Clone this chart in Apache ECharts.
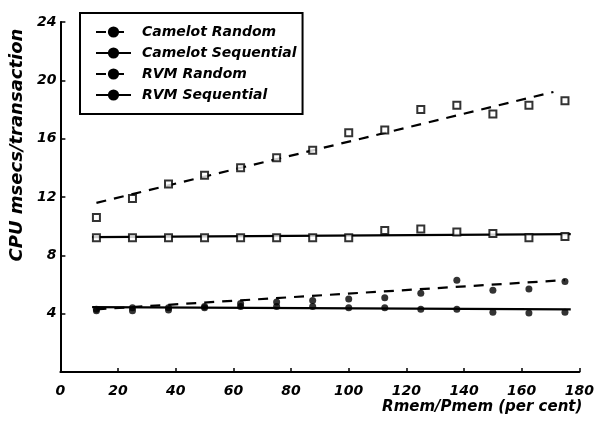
<!DOCTYPE html>
<html>
<head>
<meta charset="utf-8">
<script src="https://cdn.jsdelivr.net/npm/echarts@6/dist/echarts.min.js"></script>
<style>
  html, body { margin: 0; padding: 0; background: #fff; }
  #chart { width: 597px; height: 423px; }
</style>
</head>
<body>
<div id="chart"></div>
<script>
// Rmem/Pmem (per cent)
const xValues = [12.5, 25, 37.5, 50, 62.5, 75, 87.5, 100, 112.5, 125, 137.5, 150, 162.5, 175]

// measured points, CPU msecs/transaction
const camelotRandom = [10.6, 11.9, 12.9, 13.5, 14.0, 14.7, 15.2, 16.4, 16.6, 18.0, 18.3, 17.7, 18.3, 18.6]
const camelotSequential = [9.2, 9.2, 9.2, 9.2, 9.2, 9.2, 9.2, 9.2, 9.7, 9.8, 9.6, 9.5, 9.2, 9.3]
const rvmRandom = [4.3, 4.4, 4.4, 4.5, 4.7, 4.8, 4.9, 5.0, 5.1, 5.4, 6.3, 5.6, 5.7, 6.2]
const rvmSequential = [4.2, 4.2, 4.25, 4.4, 4.5, 4.5, 4.5, 4.4, 4.4, 4.3, 4.3, 4.1, 4.05, 4.1]

// fitted lines: [x, y] at both ends
const camelotRandomFit = [[12.5, 11.6], [171, 19.2]]
const camelotSequentialFit = [[11, 9.25], [177, 9.45]]
const rvmRandomFit = [[12.5, 4.3], [175, 6.3]]
const rvmSequentialFit = [[11, 4.45], [177, 4.3]]

const names = ['Camelot Random', 'Camelot Sequential', 'RVM Random', 'RVM Sequential']

const font = 'DejaVu Sans'
const pairs = (ys) => xValues.map((x, i) => [x, ys[i]])

const fitLine = (name, data, dashed) => ({
  name: name,
  type: 'line',
  data: data,
  symbol: 'circle',
  symbolSize: 6,
  showSymbol: false,
  silent: true,
  itemStyle: { color: '#000' },
  lineStyle: { color: '#000', width: 2.2, type: dashed ? [10, 8] : 'solid' },
  z: 2,
})

const points = (name, ys, open) => ({
  name: name,
  type: 'scatter',
  data: pairs(ys),
  symbol: open ? 'emptyRect' : 'circle',
  symbolSize: 7,
  itemStyle: open
    ? { color: '#000', borderColor: '#000', borderWidth: 2.5 }
    : { color: '#000' },
  z: 3,
})

const chart = echarts.init(document.getElementById('chart'))

const option = {
  backgroundColor: '#fff',
  animation: false,
  grid: { left: 59, right: 17, top: 22, bottom: 51, containLabel: false },
  legend: {
    data: names,
    orient: 'vertical',
    left: 80,
    top: 13,
    itemWidth: 35,
    itemHeight: 14,
    itemGap: 7,
    padding: [12, 6, 12, 15],
    borderColor: '#000',
    borderWidth: 2,
    borderRadius: 0,
    selectedMode: false,
    textStyle: {
      fontFamily: font,
      fontSize: 14,
      fontWeight: 'bold',
      fontStyle: 'italic',
      color: '#000',
      padding: [0, 0, 0, 6],
    },
  },
  xAxis: {
    type: 'value',
    min: 0,
    max: 180,
    interval: 20,
    name: 'Rmem/Pmem (per cent)',
    nameLocation: 'end',
    nameGap: 3,
    nameTextStyle: {
      fontFamily: font,
      fontSize: 15,
      fontWeight: 'bold',
      fontStyle: 'italic',
      color: '#000',
      align: 'right',
      verticalAlign: 'top',
      padding: [28, 0, 0, 0],
    },
    axisLine: { lineStyle: { color: '#000', width: 2 } },
    axisTick: { inside: true, length: 4, lineStyle: { color: '#000', width: 1.5 } },
    axisLabel: {
      margin: 12,
      fontFamily: font,
      fontSize: 14,
      fontWeight: 'bold',
      fontStyle: 'italic',
      color: '#000',
    },
    splitLine: { show: false },
  },
  yAxis: {
    type: 'value',
    min: 0,
    max: 24,
    interval: 4,
    name: 'CPU msecs/transaction',
    nameLocation: 'middle',
    nameRotate: 90,
    nameGap: 27,
    nameTextStyle: {
      fontFamily: font,
      fontSize: 18,
      fontWeight: 'bold',
      fontStyle: 'italic',
      color: '#000',
      padding: [0, 0, 0, 104],
    },
    axisLine: { show: true, lineStyle: { color: '#000', width: 2 } },
    axisTick: { show: true, inside: true, length: 5, lineStyle: { color: '#000', width: 1.5 } },
    axisLabel: {
      showMinLabel: false,
      margin: 4,
      fontFamily: font,
      fontSize: 14,
      fontWeight: 'bold',
      fontStyle: 'italic',
      color: '#000',
    },
    splitLine: { show: false },
  },
  series: [
    fitLine(names[0], camelotRandomFit, true),
    fitLine(names[1], camelotSequentialFit, false),
    fitLine(names[2], rvmRandomFit, true),
    fitLine(names[3], rvmSequentialFit, false),
    points(names[0], camelotRandom, true),
    points(names[1], camelotSequential, true),
    points(names[2], rvmRandom, false),
    points(names[3], rvmSequential, false),
  ],
}

chart.setOption(option)
</script>
</body>
</html>
